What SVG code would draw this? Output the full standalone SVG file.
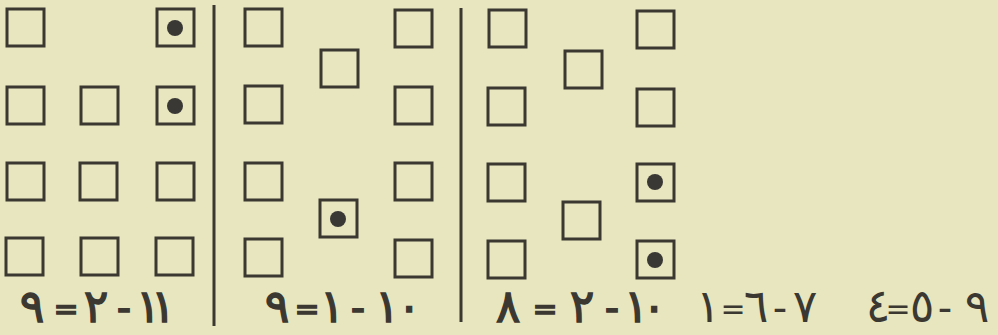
<svg xmlns="http://www.w3.org/2000/svg" width="998" height="335" viewBox="0 0 998 335">
<style>
.sq{fill:none;stroke:#3b3731;stroke-width:3}
.dot{fill:#3a3835}
.rule{stroke:#3b3731;stroke-width:3;fill:none}
text{font-family:"DejaVu Sans",sans-serif;fill:#3b3731;text-anchor:middle;direction:ltr;unicode-bidi:bidi-override}
.b{stroke:#3b3731;stroke-width:1.3}
.d{font-size:46px}
.o{font-size:30px}
.m{font-size:40px}
</style>
<rect width="998" height="335" fill="#e7e6bf"/>
<g id="rules">
<line class="rule" x1="214" y1="5" x2="214" y2="326"/>
<line class="rule" x1="461" y1="8" x2="461" y2="322"/>
</g>
<g id="panel1">
<rect class="sq" x="7" y="9" width="37" height="37"/>
<g id="p1dot1"><rect class="sq" x="157" y="9" width="37" height="37"/><circle class="dot" cx="175" cy="28" r="8"/></g>
<rect class="sq" x="7" y="87" width="37" height="37"/>
<rect class="sq" x="81" y="87" width="37" height="37"/>
<g id="p1dot2"><rect class="sq" x="157" y="87" width="37" height="37"/><circle class="dot" cx="175" cy="106" r="8"/></g>
<rect class="sq" x="7" y="163" width="37" height="37"/>
<rect class="sq" x="80" y="163" width="37" height="37"/>
<rect class="sq" x="157" y="163" width="37" height="37"/>
<rect class="sq" x="6" y="238" width="37" height="37"/>
<rect class="sq" x="81" y="238" width="37" height="37"/>
<rect class="sq" x="156" y="238" width="37" height="37"/>
</g>
<g id="panel2">
<rect class="sq" x="245" y="9" width="37" height="37"/>
<rect class="sq" x="395" y="10" width="37" height="37"/>
<rect class="sq" x="321" y="50" width="37" height="37"/>
<rect class="sq" x="245" y="86" width="37" height="37"/>
<rect class="sq" x="395" y="87" width="37" height="37"/>
<rect class="sq" x="245" y="163" width="37" height="37"/>
<rect class="sq" x="395" y="163" width="37" height="37"/>
<g id="p2dot"><rect class="sq" x="320" y="200" width="37" height="37"/><circle class="dot" cx="338" cy="219" r="8"/></g>
<rect class="sq" x="245" y="239" width="37" height="37"/>
<rect class="sq" x="395" y="240" width="37" height="37"/>
</g>
<g id="panel3">
<rect class="sq" x="489" y="10" width="37" height="37"/>
<rect class="sq" x="637" y="11" width="37" height="37"/>
<rect class="sq" x="565" y="51" width="37" height="37"/>
<rect class="sq" x="488" y="88" width="37" height="37"/>
<rect class="sq" x="637" y="89" width="37" height="37"/>
<rect class="sq" x="488" y="164" width="37" height="37"/>
<g id="p3dot1"><rect class="sq" x="637" y="164" width="37" height="37"/><circle class="dot" cx="655" cy="182" r="8"/></g>
<rect class="sq" x="563" y="202" width="37" height="37"/>
<rect class="sq" x="488" y="241" width="37" height="37"/>
<g id="p3dot2"><rect class="sq" x="637" y="241" width="37" height="37"/><circle class="dot" cx="655" cy="260" r="8"/></g>
</g>
<g id="equations">
<text id="eq1" class="b"><tspan class="d" x="32" y="322">٩</tspan><tspan class="o" x="66" y="319">=</tspan><tspan class="d" x="96" y="322">٢</tspan><tspan class="m" x="124" y="322">-</tspan><tspan class="d" x="148" y="322">١</tspan><tspan class="d" x="163" y="322">١</tspan></text>
<text id="eq2" class="b"><tspan class="d" x="277" y="322">٩</tspan><tspan class="o" x="307" y="319">=</tspan><tspan class="d" x="332" y="322">١</tspan><tspan class="m" x="358" y="322">-</tspan><tspan class="d" x="387" y="322">١</tspan><tspan class="d" x="409" y="322">٠</tspan></text>
<text id="eq3" class="b"><tspan class="d" x="508" y="322">٨</tspan><tspan class="o" x="545" y="319">=</tspan><tspan class="d" x="582" y="322">٢</tspan><tspan class="m" x="612" y="322">-</tspan><tspan class="d" x="636" y="322">١</tspan><tspan class="d" x="654" y="322">٠</tspan></text>
<text id="eq4"><tspan class="d" x="708" y="322">١</tspan><tspan class="o" x="733" y="319">=</tspan><tspan class="d" x="756" y="322">٦</tspan><tspan class="m" x="780" y="322">-</tspan><tspan class="d" x="805" y="322">٧</tspan></text>
<text id="eq5"><tspan class="d" x="878" y="322">٤</tspan><tspan class="o" x="898" y="319">=</tspan><tspan class="d" x="922" y="322">٥</tspan><tspan class="m" x="945" y="322">-</tspan><tspan class="d" x="977" y="322">٩</tspan></text>
</g>
</svg>
